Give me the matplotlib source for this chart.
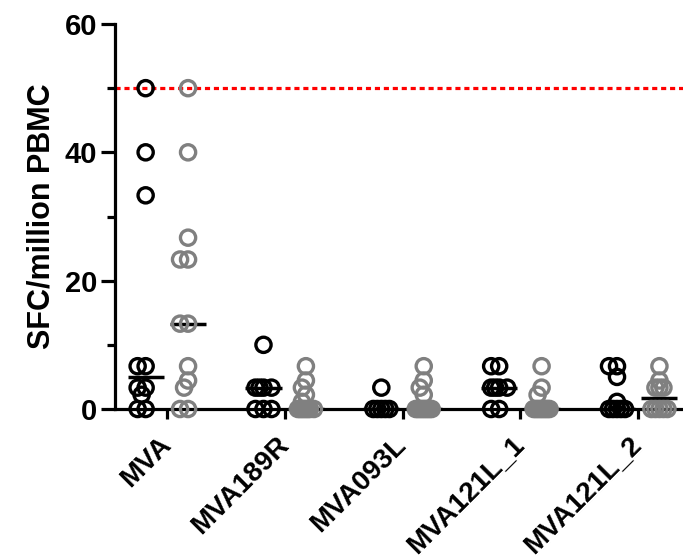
import numpy as np
import matplotlib
matplotlib.use("Agg")
import matplotlib.pyplot as plt
from matplotlib.ticker import FixedLocator

plt.rcParams['font.family'] = ['Liberation Sans', 'DejaVu Sans']
plt.rcParams['font.weight'] = 'bold'

# ---- data (SFC per million PBMC) ----
categories = ["MVA", "MVA189R", "MVA093L", "MVA121L_1", "MVA121L_2"]

black_mva    = [50, 40, 33.3, 6.67, 6.67, 3.33, 3.33, 2.22, 0, 0]
black_m189r  = [10, 3.33, 3.33, 3.33, 3.33, 0, 0, 0]
black_m093l  = [3.33, 0, 0, 0, 0, 0]
black_m121l1 = [6.67, 6.67, 3.33, 3.33, 3.33, 3.33, 0, 0]
black_m121l2 = [6.67, 6.67, 5.0, 1.11, 0, 0, 0, 0, 0]

gray_mva    = [50, 40, 26.7, 23.3, 23.3, 13.3, 13.3, 6.67, 4.44, 3.33, 0, 0]
gray_m189r  = [6.67, 4.44, 3.33, 2.22, 1.11, 0, 0, 0, 0, 0, 0, 0, 0]
gray_m093l  = [6.67, 4.44, 3.33, 2.22, 0, 0, 0, 0, 0, 0, 0, 0, 0]
gray_m121l1 = [6.67, 3.33, 2.22, 0, 0, 0, 0, 0, 0, 0, 0, 0]
gray_m121l2 = [6.67, 4.44, 3.33, 3.33, 3.33, 0, 0, 0, 0, 0]

black_groups = [black_mva, black_m189r, black_m093l, black_m121l1, black_m121l2]
gray_groups = [gray_mva, gray_m189r, gray_m093l, gray_m121l1, gray_m121l2]

threshold = 50
# -------------------------------------

W, H = 683, 560
ax_l, ax_b, ax_w, ax_h = 115, 151, 568, 385
xlim = (-0.44, 4.38)
ylim = (0, 60)
px_x = ax_w / (xlim[1] - xlim[0])   # pixels per x unit
px_y = ax_h / (ylim[1] - ylim[0])   # pixels per y unit


def swarm(vals, d=8, maxw=8):
    # simple beeswarm in pixel space, returns x offsets in data units
    vals = np.asarray(vals, float)
    offs = np.zeros(len(vals))
    placed = []
    cands = sorted(range(-maxw, maxw + 1), key=lambda c: (abs(c), c))
    for i in np.argsort(-vals, kind="stable"):
        y = vals[i] * px_y
        best, best_d = 0, -1
        for c in cands:
            md = min((np.hypot(c - a, y - b) for a, b in placed), default=1e9)
            if md >= d:
                best = c
                break
            if md > best_d:
                best_d, best = md, c
        placed.append((best, y))
        offs[i] = best / px_x
    return offs


fig = plt.figure(figsize=(W / 100, H / 100), dpi=100)
ax = fig.add_axes([ax_l / W, ax_b / H, ax_w / W, ax_h / H])

shift = 0.18
for i, (bv, gv) in enumerate(zip(black_groups, gray_groups)):
    for vals, dx, col in [(bv, -shift, "black"), (gv, shift, "#808080")]:
        xc = i + dx
        ax.hlines(np.median(vals), xc - 0.153, xc + 0.153, color="black",
                  lw=2.5, zorder=2)
        ax.scatter(xc + swarm(vals), vals, s=120, facecolors="none",
                   edgecolors=col, linewidths=2.4, zorder=3, clip_on=False)

ax.axhline(threshold, color="red", lw=2.3, linestyle=(0, (1.6, 1.2)), zorder=1)

ax.set_xlim(*xlim)
ax.set_ylim(*ylim)
ax.spines[['top', 'right']].set_visible(False)
ax.spines[['left', 'bottom']].set_linewidth(2.3)

ax.set_yticks([0, 20, 40, 60])
ax.yaxis.set_minor_locator(FixedLocator([10, 30, 50]))
ax.tick_params(axis='y', which='major', length=10, width=2.3, labelsize=21, pad=3)
ax.tick_params(axis='y', which='minor', length=6, width=2.3)
ax.set_xticks(range(len(categories)))
ax.set_xticklabels(categories, rotation=45, ha='right', va='center',
                   rotation_mode='anchor', fontsize=20)
ax.tick_params(axis='x', length=7, width=2.3, pad=16)

ax.set_ylabel("SFC/million PBMC", fontsize=22, fontweight='bold', labelpad=6)

fig.savefig("out.png", dpi=100)
